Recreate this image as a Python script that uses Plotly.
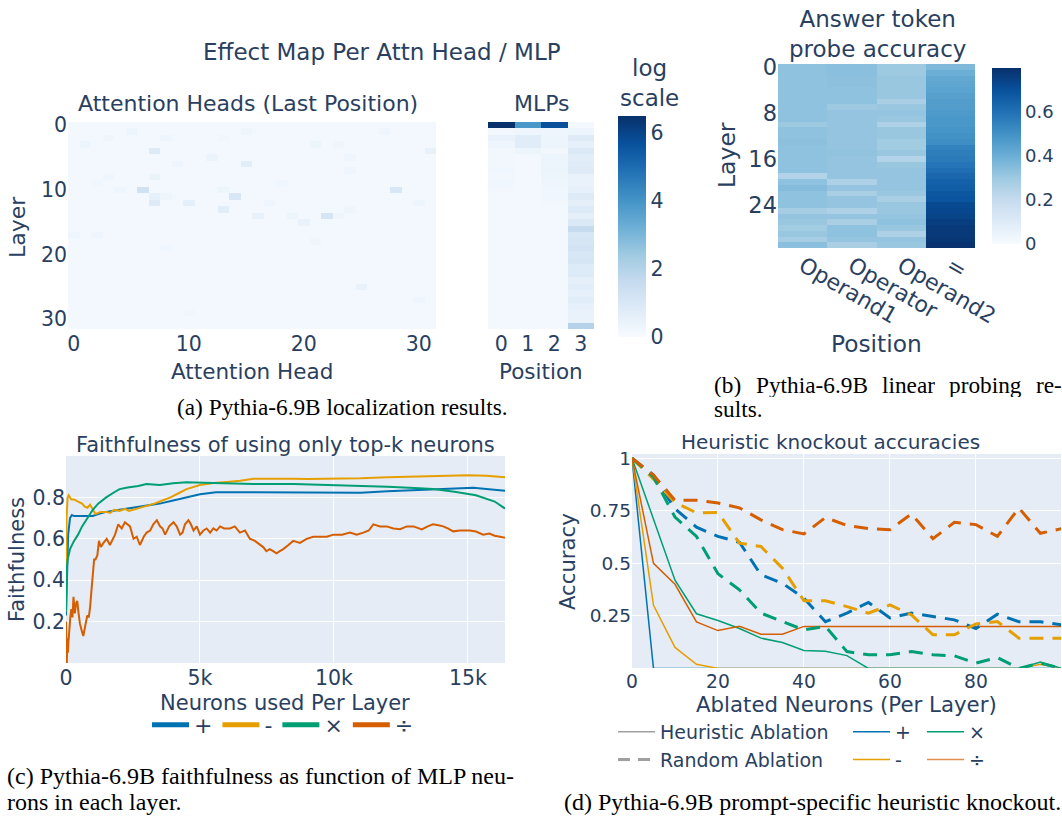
import plotly.graph_objects as go

W, H = 1062, 817
def px(x): return x / W
def py(y): return 1 - y / H

FONT = "DejaVu Sans"
FC = "#2a3f5f"
SERIF = "Liberation Serif"

C_PLUS, C_MINUS, C_TIMES, C_DIV = "#0072B2", "#E69F00", "#009E73", "#D55E00"

# ---------------- (a) attention heads / MLP effect map ----------------
N_LAYERS = 32
N_HEADS = 32
ATTN_BASE = 0.15
# (layer, head, log effect) - visible non-background cells
ATTN_SPOTS = [
    (1, 5, 0.35), (1, 15, 0.3), (1, 27, 0.3), (2, 3, 0.3), (2, 8, 0.3), (2, 13, 0.25),
    (3, 1, 0.35), (3, 21, 0.35), (3, 23, 0.3), (4, 7, 0.8), (4, 31, 0.5),
    (5, 12, 0.4), (5, 24, 0.3), (6, 9, 0.3), (6, 15, 0.7), (7, 24, 0.3),
    (8, 3, 0.3), (8, 7, 0.4), (9, 2, 0.25), (9, 18, 0.25),
    (10, 6, 1.3), (10, 4, 0.3), (10, 13, 0.35), (10, 28, 1.0),
    (11, 7, 0.55), (11, 14, 1.0), (11, 8, 0.3), (12, 7, 0.8), (12, 10, 0.6),
    (12, 17, 0.3), (12, 30, 0.35), (13, 13, 0.7), (13, 24, 0.3),
    (14, 16, 0.5), (14, 19, 0.35), (14, 22, 1.1), (14, 23, 0.3),
    (15, 20, 0.45), (17, 0, 0.3), (17, 2, 0.3), (18, 21, 0.3),
    (19, 8, 0.25), (25, 25, 0.45), (27, 30, 0.3), (29, 10, 0.25),
]

MLP_POS0 = [6.5, 0.2, 0.45, 0.3, 0.2, 0.2, 0.2, 0.25, 0.2, 0.25, 0.2, 0.15,
            0.15, 0.15, 0.15, 0.15, 0.15, 0.15, 0.15, 0.15, 0.15, 0.15, 0.15,
            0.15, 0.15, 0.15, 0.15, 0.15, 0.15, 0.15, 0.15, 0.15]
MLP_POS1 = [3.9, 0.3, 0.75, 0.75, 0.35, 0.15, 0.15, 0.15, 0.15, 0.15, 0.15, 0.15,
            0.15, 0.15, 0.15, 0.15, 0.15, 0.15, 0.15, 0.15, 0.15, 0.15, 0.15,
            0.15, 0.15, 0.15, 0.15, 0.15, 0.15, 0.15, 0.15, 0.15]
MLP_POS2 = [5.7, 0.3, 0.35, 0.35, 0.2, 0.35, 0.35, 0.4, 0.35, 0.3, 0.25, 0.25,
            0.2, 0.15, 0.15, 0.15, 0.15, 0.15, 0.15, 0.15, 0.15, 0.15, 0.15,
            0.15, 0.15, 0.15, 0.15, 0.15, 0.15, 0.15, 0.15, 0.15]
MLP_POS3 = [0.12, 0.35, 0.8, 0.55, 0.9, 0.7, 0.75, 0.8, 0.45, 0.45, 0.55, 0.8,
            0.6, 0.85, 0.6, 0.9, 1.6, 1.0, 1.1, 1.2, 1.0, 1.1, 0.85, 0.85,
            0.6, 0.7, 0.55, 0.7, 0.55, 0.45, 0.45, 2.0]

# ---------------- (b) probe accuracy ----------------
PROBE_POSITIONS = ["Operand1", "Operator", "Operand2", "="]
PROBE_OPERAND1 = [0.33, 0.33, 0.33, 0.33, 0.33, 0.33, 0.33, 0.33, 0.33, 0.33, 0.30, 0.33,
                  0.33, 0.335, 0.33, 0.33, 0.33, 0.33, 0.33, 0.25, 0.33, 0.35, 0.33, 0.33,
                  0.33, 0.28, 0.32, 0.31, 0.29, 0.31, 0.28, 0.34]
PROBE_OPERATOR = [0.34, 0.34, 0.335, 0.335, 0.33, 0.33, 0.33, 0.30, 0.32, 0.32, 0.32, 0.32,
                  0.32, 0.32, 0.32, 0.325, 0.32, 0.32, 0.32, 0.32, 0.26, 0.32, 0.27, 0.32,
                  0.32, 0.26, 0.32, 0.27, 0.33, 0.33, 0.32, 0.27]
PROBE_OPERAND2 = [0.30, 0.30, 0.31, 0.31, 0.31, 0.31, 0.27, 0.31, 0.32, 0.31, 0.26, 0.31,
                  0.31, 0.29, 0.29, 0.31, 0.25, 0.31, 0.32, 0.32, 0.32, 0.32, 0.31, 0.27,
                  0.31, 0.31, 0.32, 0.33, 0.31, 0.26, 0.32, 0.31]
PROBE_EQUALS = [0.36, 0.40, 0.42, 0.43, 0.44, 0.45, 0.46, 0.46, 0.47, 0.48, 0.48, 0.49,
                0.50, 0.51, 0.55, 0.56, 0.57, 0.59, 0.61, 0.63, 0.65, 0.66, 0.68, 0.69,
                0.72, 0.73, 0.74, 0.76, 0.77, 0.77, 0.78, 0.79]

# ---------------- (c) faithfulness (neurons, faithfulness) ----------------
FAITH_PLUS = [(0, 0.23), (30, 0.45), (80, 0.62), (150, 0.70), (220, 0.715), (300, 0.71),
              (600, 0.71), (1000, 0.71), (1200, 0.72), (1500, 0.73), (2000, 0.74),
              (2500, 0.75), (3000, 0.76), (3500, 0.77), (4000, 0.785), (4500, 0.80),
              (5000, 0.815), (5600, 0.825), (6500, 0.825), (8000, 0.823), (9500, 0.823),
              (11000, 0.823), (12000, 0.83), (13000, 0.835), (14000, 0.84), (15200, 0.847),
              (16384, 0.832)]
FAITH_MINUS = [(0, 0.25), (20, 0.70), (60, 0.80), (100, 0.81), (200, 0.79), (300, 0.79),
               (450, 0.78), (600, 0.77), (700, 0.755), (800, 0.75), (900, 0.765), (1000, 0.74),
               (1100, 0.72), (1300, 0.73), (1500, 0.73), (1650, 0.725), (1800, 0.74), (2000, 0.735),
               (2200, 0.745), (2350, 0.735), (2500, 0.74), (2800, 0.75), (3000, 0.76), (3300, 0.77),
               (3600, 0.785), (3900, 0.80), (4200, 0.82), (4500, 0.84), (5000, 0.86),
               (5500, 0.87), (6000, 0.875), (6500, 0.88), (7000, 0.89), (8000, 0.892),
               (8500, 0.89), (9000, 0.889), (10000, 0.89), (11000, 0.892), (12000, 0.897),
               (13000, 0.90), (14000, 0.903), (15000, 0.907), (15700, 0.905), (16384, 0.897)]
FAITH_TIMES = [(0, 0.25), (20, 0.44), (60, 0.50), (150, 0.55), (300, 0.59), (450, 0.62),
               (600, 0.66), (800, 0.70), (1000, 0.74), (1200, 0.77), (1500, 0.80),
               (1800, 0.825), (2000, 0.84), (2300, 0.848), (2700, 0.855), (3000, 0.865),
               (3500, 0.86), (4000, 0.868), (4500, 0.873), (5500, 0.87), (7000, 0.865),
               (8500, 0.865), (10000, 0.86), (11000, 0.858), (12000, 0.852), (13000, 0.845),
               (13700, 0.84), (14500, 0.827), (15300, 0.81), (16000, 0.78), (16384, 0.746)]
FAITH_DIV = [(0, 0.20), (15, 0.06), (30, 0.0), (50, 0.12), (70, 0.05), (90, 0.10), (120, 0.18),
             (160, 0.22), (200, 0.26), (240, 0.22), (280, 0.32), (330, 0.24), (380, 0.29),
             (420, 0.30), (470, 0.24), (520, 0.19), (580, 0.16), (645, 0.13), (720, 0.18),
             (795, 0.23), (850, 0.22), (900, 0.27), (950, 0.35), (1000, 0.43), (1050, 0.50),
             (1100, 0.50), (1170, 0.52), (1230, 0.59), (1300, 0.56), (1400, 0.58), (1520, 0.60),
             (1640, 0.57), (1750, 0.60), (1830, 0.62), (1950, 0.67), (2080, 0.65), (2200, 0.68),
             (2300, 0.67), (2390, 0.66), (2520, 0.60), (2640, 0.61), (2760, 0.57), (2900, 0.61),
             (3010, 0.63), (3140, 0.64), (3260, 0.67), (3390, 0.69), (3510, 0.66), (3600, 0.65),
             (3700, 0.62), (3850, 0.66), (4010, 0.68), (4130, 0.66), (4260, 0.62), (4350, 0.63),
             (4440, 0.67), (4570, 0.69), (4660, 0.67), (4760, 0.64), (4880, 0.66), (5000, 0.62),
             (5130, 0.64), (5250, 0.65), (5380, 0.63), (5500, 0.65), (5620, 0.64), (5750, 0.66),
             (5900, 0.65), (6120, 0.65), (6300, 0.66), (6490, 0.63), (6680, 0.64), (6860, 0.60),
             (7050, 0.59), (7240, 0.57), (7360, 0.56), (7480, 0.54), (7600, 0.55), (7730, 0.54),
             (7860, 0.53), (7980, 0.54), (8110, 0.55), (8300, 0.57), (8480, 0.59), (8730, 0.58),
             (8980, 0.60), (9230, 0.61), (9480, 0.61), (9730, 0.61), (9980, 0.62), (10300, 0.62),
             (10600, 0.63), (10850, 0.62), (11100, 0.63), (11300, 0.64), (11470, 0.67),
             (11720, 0.66), (11970, 0.66), (12220, 0.65), (12470, 0.646), (12720, 0.66),
             (12970, 0.66), (13150, 0.65), (13280, 0.645), (13500, 0.66), (13700, 0.67),
             (13900, 0.665), (14080, 0.66), (14250, 0.65), (14450, 0.636), (14700, 0.64),
             (15070, 0.64), (15300, 0.635), (15570, 0.62), (15800, 0.625), (16000, 0.615),
             (16200, 0.61), (16384, 0.605)]

# ---------------- (d) heuristic knockout ----------------
KO_NEURONS = [0, 5, 10, 15, 20, 25, 30, 35, 40, 45, 50, 55, 60, 65, 70, 75, 80, 85, 90, 95, 100]
HEUR_PLUS = [1, 0, 0, 0, 0, 0, 0, 0, 0, 0, 0, 0, 0, 0, 0, 0, 0, 0, 0, 0, 0]
HEUR_MINUS = [1, 0.3, 0.1, 0.02, 0, 0, 0, 0, 0, 0, 0, 0, 0, 0, 0, 0, 0, 0, 0, 0.02, 0]
HEUR_TIMES = [1, 0.71, 0.42, 0.26, 0.228, 0.19, 0.144, 0.123, 0.085, 0.082, 0.061, 0, 0, 0,
              0, 0, 0, 0, 0, 0.03, 0]
HEUR_DIV = [1, 0.5, 0.4, 0.221, 0.18, 0.2, 0.163, 0.163, 0.2, 0.2, 0.2, 0.2, 0.2, 0.2, 0.2,
            0.2, 0.2, 0.2, 0.2, 0.2, 0.2]
RAND_PLUS = [1, 0.92, 0.76, 0.672, 0.628, 0.6, 0.445, 0.405, 0.334, 0.222, 0.263, 0.314,
             0.24, 0.263, 0.247, 0.231, 0.19, 0.258, 0.222, 0.222, 0.207]
RAND_MINUS = [1, 0.9, 0.79, 0.74, 0.742, 0.596, 0.58, 0.477, 0.322, 0.322, 0.294, 0.263,
              0.302, 0.255, 0.16, 0.16, 0.212, 0.223, 0.144, 0.144, 0.144]
RAND_TIMES = [1, 0.91, 0.72, 0.628, 0.45, 0.374, 0.263, 0.222, 0.183, 0.2, 0.08, 0.065,
              0.065, 0.08, 0.065, 0.06, 0.025, 0.052, 0.0, 0.025, 0.0]
RAND_DIV = [1, 0.92, 0.80, 0.80, 0.787, 0.764, 0.707, 0.66, 0.64, 0.718, 0.68, 0.665, 0.66,
            0.735, 0.617, 0.695, 0.684, 0.628, 0.763, 0.643, 0.665]

OPS = ["+", "-", "×", "÷"]
OP_COLORS = [C_PLUS, C_MINUS, C_TIMES, C_DIV]

# ====================== build figure ======================
fig = go.Figure()

attn = [[ATTN_BASE for _ in range(N_HEADS)] for _ in range(N_LAYERS)]
for (l, h, v) in ATTN_SPOTS:
    attn[l][h] = v
fig.add_trace(go.Heatmap(z=attn, x=list(range(N_HEADS)), y=list(range(N_LAYERS)),
                         coloraxis="coloraxis", xaxis="x", yaxis="y"))

mlp = [[MLP_POS0[i], MLP_POS1[i], MLP_POS2[i], MLP_POS3[i]] for i in range(N_LAYERS)]
fig.add_trace(go.Heatmap(z=mlp, x=[0, 1, 2, 3], y=list(range(N_LAYERS)),
                         coloraxis="coloraxis", xaxis="x2", yaxis="y2"))

probe = [[PROBE_OPERAND1[i], PROBE_OPERATOR[i], PROBE_OPERAND2[i], PROBE_EQUALS[i]]
         for i in range(N_LAYERS)]
fig.add_trace(go.Heatmap(z=probe, x=PROBE_POSITIONS, y=list(range(N_LAYERS)),
                         coloraxis="coloraxis2", xaxis="x3", yaxis="y3"))

# (c)
for name, pts, col in zip(OPS, [FAITH_PLUS, FAITH_MINUS, FAITH_TIMES, FAITH_DIV], OP_COLORS):
    fig.add_trace(go.Scatter(x=[p[0] for p in pts], y=[p[1] for p in pts], mode="lines",
                             line=dict(color=col, width=2), showlegend=False,
                             xaxis="x4", yaxis="y4"))
for name, col in zip(OPS, OP_COLORS):
    fig.add_trace(go.Scatter(x=[None], y=[None], mode="lines", name=name,
                             line=dict(color=col, width=5), legend="legend",
                             xaxis="x4", yaxis="y4"))

# (d)
DASH = "14px,9px"
for ys, col in zip([HEUR_PLUS, HEUR_MINUS, HEUR_TIMES, HEUR_DIV], OP_COLORS):
    fig.add_trace(go.Scatter(x=KO_NEURONS, y=ys, mode="lines", line=dict(color=col, width=1.5),
                             showlegend=False, xaxis="x5", yaxis="y5"))
for ys, col in zip([RAND_PLUS, RAND_MINUS, RAND_TIMES, RAND_DIV], OP_COLORS):
    fig.add_trace(go.Scatter(x=KO_NEURONS, y=ys, mode="lines",
                             line=dict(color=col, width=3, dash=DASH),
                             showlegend=False, xaxis="x5", yaxis="y5"))
fig.add_trace(go.Scatter(x=[None], y=[None], mode="lines", name="Heuristic Ablation",
                         line=dict(color="#a0a0a0", width=1.5), legend="legend2",
                         xaxis="x5", yaxis="y5"))
fig.add_trace(go.Scatter(x=[None], y=[None], mode="lines", name="Random Ablation",
                         line=dict(color="#a0a0a0", width=3, dash="12px,8px"), legend="legend2",
                         xaxis="x5", yaxis="y5"))
for name, col, lg in [("+", C_PLUS, "legend3"), ("-", C_MINUS, "legend3"),
                      ("×", C_TIMES, "legend4"), ("÷", "rgba(213,94,0,0.7)", "legend4")]:
    fig.add_trace(go.Scatter(x=[None], y=[None], mode="lines", name=name,
                             line=dict(color=col, width=1.5), legend=lg,
                             xaxis="x5", yaxis="y5"))

# ------------------ layout ------------------
TF_A = dict(size=20.5)
ax_common = dict(showline=False, zeroline=False, ticks="", automargin=False)

layout = dict(
    width=W, height=H, margin=dict(l=0, r=0, t=0, b=0, pad=0, autoexpand=False),
    paper_bgcolor="white", plot_bgcolor="#E5ECF6",
    font=dict(family=FONT, color=FC, size=18),
    xaxis=dict(domain=[px(68), px(436)], anchor="y", range=[-0.5, 31.5],
               tickvals=[0, 10, 20, 30], showgrid=False, tickfont=TF_A, **ax_common),
    yaxis=dict(domain=[py(329), py(122)], anchor="x", range=[31.5, -0.5],
               tickvals=[0, 10, 20, 30], showgrid=False, tickfont=TF_A, **ax_common),
    xaxis2=dict(domain=[px(488), px(594)], anchor="y2", range=[-0.5, 3.5],
                tickvals=[0, 1, 2, 3], showgrid=False, tickfont=TF_A, **ax_common),
    yaxis2=dict(domain=[py(329), py(122)], anchor="x2", range=[31.5, -0.5],
                showticklabels=False, showgrid=False, **ax_common),
    xaxis3=dict(domain=[px(778), px(975)], anchor="y3", tickangle=30, showgrid=False,
                tickfont=dict(size=22), **ax_common),
    yaxis3=dict(domain=[py(248), py(64)], anchor="x3", range=[31.5, -0.5],
                tickvals=[0, 8, 16, 24], showgrid=False, tickfont=dict(size=22.5), **ax_common),
    xaxis4=dict(domain=[px(66), px(505)], anchor="y4", range=[0, 16384], dtick=5000,
                gridcolor="white", tickfont=dict(size=20.5), **ax_common),
    yaxis4=dict(domain=[py(663), py(456)], anchor="x4", range=[0, 1],
                tickvals=[0.2, 0.4, 0.6, 0.8], gridcolor="white",
                tickfont=dict(size=20.5), **ax_common),
    xaxis5=dict(domain=[px(632), px(1061)], anchor="y5", range=[0, 99.8], dtick=20,
                gridcolor="white", tickfont=dict(size=18.7), **ax_common),
    yaxis5=dict(domain=[py(668), py(454)], anchor="x5", range=[0.002, 1.02],
                tickvals=[0.25, 0.5, 0.75, 1], ticktext=["0.25", "0.5", "0.75", "1"],
                gridcolor="white", tickfont=dict(size=18.5), **ax_common),
    coloraxis=dict(colorscale="Blues", cmin=0, cmax=6.5,
                   colorbar=dict(x=px(618), xanchor="left", thickness=28, len=221 / H,
                                 y=py(226.5), yanchor="middle", ypad=0, xpad=0,
                                 outlinewidth=0, tickvals=[0, 2, 4, 6],
                                 tickfont=dict(size=20.5))),
    coloraxis2=dict(colorscale="Blues", cmin=0, cmax=0.8,
                    colorbar=dict(x=px(992), xanchor="left", thickness=29, len=176 / H,
                                  y=py(156), yanchor="middle", ypad=0, xpad=0,
                                  outlinewidth=0, tickvals=[0, 0.2, 0.4, 0.6],
                                  tickfont=dict(size=18))),
    legend=dict(orientation="h", x=px(283), xanchor="center", y=py(725), yanchor="middle",
                font=dict(size=22), bgcolor="rgba(0,0,0,0)", itemwidth=37),
    legend2=dict(orientation="v", x=px(613), xanchor="left", y=py(746), yanchor="middle",
                 font=dict(size=19), bgcolor="rgba(0,0,0,0)", itemwidth=37),
    legend3=dict(orientation="v", x=px(848), xanchor="left", y=py(746), yanchor="middle",
                 font=dict(size=19), bgcolor="rgba(0,0,0,0)", itemwidth=37),
    legend4=dict(orientation="v", x=px(922), xanchor="left", y=py(746), yanchor="middle",
                 font=dict(size=19), bgcolor="rgba(0,0,0,0)", itemwidth=37),
)
fig.update_layout(**layout)

def ann(text, x, y, size, angle=0, xanchor="center", family=FONT, color=FC, height=None):
    fig.add_annotation(text=text, x=px(x), y=py(y), xref="paper", yref="paper",
                       showarrow=False, xanchor=xanchor, yanchor="middle",
                       textangle=angle, height=height,
                       font=dict(family=family, size=size, color=color))

# titles
ann("Effect Map Per Attn Head / MLP", 382, 52, 23)
ann("Attention Heads (Last Position)", 248, 103, 22)
ann("MLPs", 542, 103, 22)
ann("log<br>scale", 618, 83, 23, xanchor="left")
ann("Answer token<br>probe accuracy", 877, 34, 23)
ann("Faithfulness of using only top-k neurons", 285, 445, 21)
ann("Heuristic knockout accuracies", 830, 442, 20)
# axis titles
ann("Layer", 17, 227, 22, angle=-90)
ann("Attention Head", 252, 371, 21.5)
ann("Position", 541, 371, 21.5)
ann("Layer", 727, 155, 23.5, angle=-90)
ann("Position", 876, 343, 23.3)
ann("Faithfulness", 17, 560, 21, angle=-90)
ann("Neurons used Per Layer", 285, 703, 21)
ann("Accuracy", 567, 562, 21.2, angle=-90)
ann("Ablated Neurons (Per Layer)", 846, 704, 21.3)

# captions
ann("(a) Pythia-6.9B localization results.", 342.5, 407, 23.3, family=SERIF, color="black")
for word, x in [("(b)", 712), ("Pythia-6.9B", 753.5), ("linear", 880), ("probing", 947.3),
                ("re-", 1034)]:
    ann(word, x, 385, 23.3, xanchor="left", family=SERIF, color="black", height=24)
ann("sults.", 712, 409, 23.3, xanchor="left", family=SERIF, color="black", height=24)
ann("(c) Pythia-6.9B faithfulness as function of MLP neu-", 5, 776, 24, xanchor="left",
    family=SERIF, color="black", height=26)
ann("rons in each layer.", 5, 802, 24, xanchor="left", family=SERIF, color="black", height=26)
ann("(d) Pythia-6.9B prompt-specific heuristic knockout.", 562, 802, 24, xanchor="left",
    family=SERIF, color="black", height=26)

fig.write_html("out.html", config={"displayModeBar": False},
               post_script="document.body.style.margin='0px';")
